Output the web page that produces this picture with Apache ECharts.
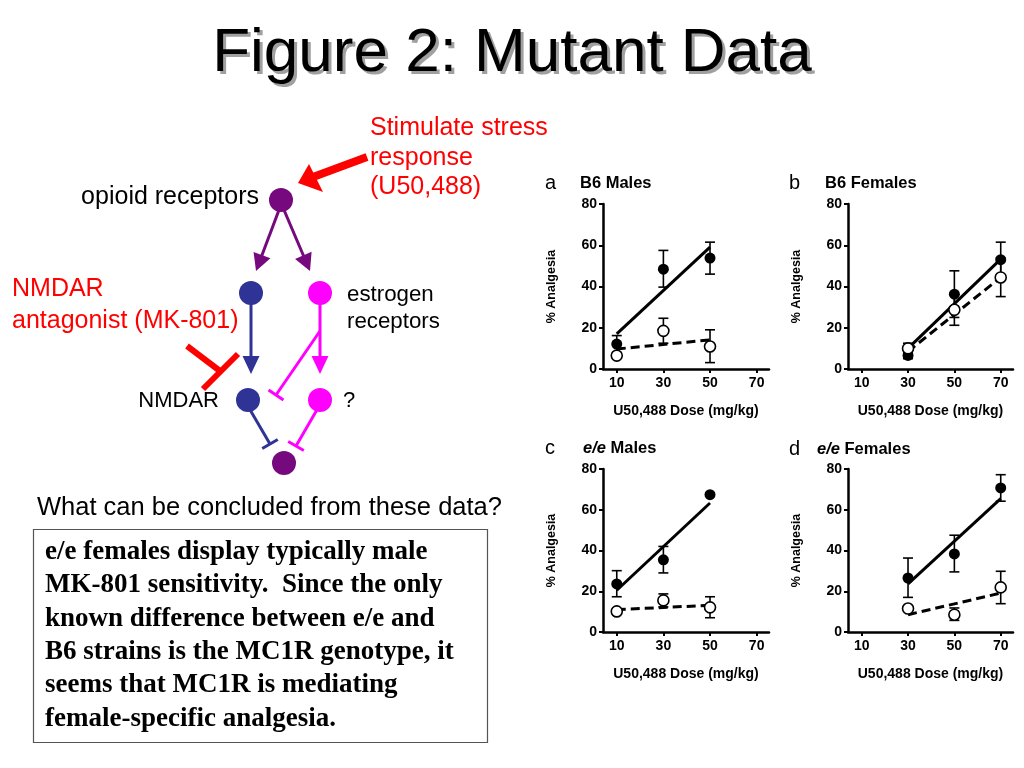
<!DOCTYPE html>
<html><head><meta charset="utf-8">
<script src="https://cdn.jsdelivr.net/npm/echarts@6/dist/echarts.min.js"></script>
<style>html,body{margin:0;padding:0;background:#fff}#c{width:1024px;height:768px}</style>
</head><body><div id="c"></div>
<script>
// ---------- data ----------
const xTickValues = [10, 30, 50, 70];
const yTickValues = [0, 20, 40, 60, 80];
const panelLetters = ['a', 'b', 'c', 'd'];
const panelTitles = ['B6 Males', 'B6 Females', 'e/e Males', 'e/e Females'];

// a: B6 males (filled = U50,488 alone, open = with MK-801)
const aDose = [10, 30, 50];
const aSalMean = [12.1, 48.4, 53.8];
const aSalLow = [8.0, 39.7, 46.0];
const aSalHigh = [16.2, 57.5, 61.5];
const aMkMean = [6.5, 18.5, 10.9];
const aMkLow = [5.5, 12.5, 3.1];
const aMkHigh = [7.5, 24.6, 19.0];
const aFitDose = [10, 50];
const aSalFit = [17.0, 59.1];
const aMkFit = [9.7, 14.1];

// b: B6 females
const bDose = [30, 50, 70];
const bSalMean = [6.6, 36.3, 53.0];
const bSalLow = [5.0, 25.0, 44.5];
const bSalHigh = [8.0, 47.6, 61.5];
const bMkMean = [10.0, 28.7, 44.4];
const bMkLow = [7.5, 21.2, 35.1];
const bMkHigh = [12.5, 36.2, 53.7];
const bFitDose = [30, 70];
const bSalFit = [10.0, 53.3];
const bMkFit = [8.5, 44.4];

// c: e/e males
const cDose = [10, 30, 50];
const cSalMean = [23.6, 35.4, 67.4];
const cSalLow = [17.3, 29.0, 66.9];
const cSalHigh = [30.1, 42.0, 67.9];
const cMkMean = [10.1, 15.5, 12.1];
const cMkLow = [9.0, 12.3, 7.0];
const cMkHigh = [11.2, 18.7, 17.3];
const cFitDose = [10, 50];
const cSalFit = [20.5, 63.3];
const cMkFit = [11.0, 13.1];

// d: e/e females
const dDose = [30, 50, 70];
const dSalMean = [26.5, 38.3, 70.7];
const dSalLow = [17.0, 29.5, 64.2];
const dSalHigh = [36.3, 47.5, 77.2];
const dMkMean = [11.5, 8.5, 21.9];
const dMkLow = [10.5, 5.7, 13.9];
const dMkHigh = [12.5, 11.8, 29.8];
const dFitDose = [30, 70];
const dSalFit = [23.6, 65.5];
const dMkFit = [8.5, 19.1];

const panels = [
  {dose: aDose, salMean: aSalMean, salLow: aSalLow, salHigh: aSalHigh, mkMean: aMkMean, mkLow: aMkLow, mkHigh: aMkHigh, fitDose: aFitDose, salFit: aSalFit, mkFit: aMkFit},
  {dose: bDose, salMean: bSalMean, salLow: bSalLow, salHigh: bSalHigh, mkMean: bMkMean, mkLow: bMkLow, mkHigh: bMkHigh, fitDose: bFitDose, salFit: bSalFit, mkFit: bMkFit},
  {dose: cDose, salMean: cSalMean, salLow: cSalLow, salHigh: cSalHigh, mkMean: cMkMean, mkLow: cMkLow, mkHigh: cMkHigh, fitDose: cFitDose, salFit: cSalFit, mkFit: cMkFit},
  {dose: dDose, salMean: dSalMean, salLow: dSalLow, salHigh: dSalHigh, mkMean: dMkMean, mkLow: dMkLow, mkHigh: dMkHigh, fitDose: dFitDose, salFit: dSalFit, mkFit: dMkFit}
];

// ---------- layout ----------
const FONT = '"Liberation Sans", Arial, Helvetica, sans-serif';
const gridBoxes = [
  {left: 603, top: 204, width: 166, height: 165},
  {left: 848, top: 204, width: 165, height: 165},
  {left: 603, top: 469, width: 166, height: 163},
  {left: 848, top: 469, width: 165, height: 163}
];
const headerPos = [
  {lx: 545, tx: 580, y: 183},
  {lx: 789, tx: 825, y: 183},
  {lx: 545, tx: 583, y: 448},
  {lx: 789, tx: 817, y: 449}
];

function errRender(params, api) {
  const x = api.value(0), lo = api.value(1), hi = api.value(2);
  const pLo = api.coord([x, lo]), pHi = api.coord([x, hi]);
  const cw = 5;
  const st = {stroke: '#000', lineWidth: 1.6};
  return {type: 'group', children: [
    {type: 'line', shape: {x1: pLo[0], y1: pLo[1], x2: pHi[0], y2: pHi[1]}, style: st},
    {type: 'line', shape: {x1: pLo[0] - cw, y1: pLo[1], x2: pLo[0] + cw, y2: pLo[1]}, style: st},
    {type: 'line', shape: {x1: pHi[0] - cw, y1: pHi[1], x2: pHi[0] + cw, y2: pHi[1]}, style: st}
  ]};
}

const grid = [], xAxis = [], yAxis = [], series = [];
panels.forEach((p, i) => {
  grid.push(Object.assign({containLabel: false}, gridBoxes[i]));
  xAxis.push({
    type: 'value', gridIndex: i, min: 4.1, max: 75.3,
    name: 'U50,488 Dose (mg/kg)', nameLocation: 'middle', nameGap: 35,
    nameTextStyle: {fontFamily: FONT, fontWeight: 'bold', fontSize: 14, color: '#000'},
    axisLine: {show: true, onZero: false, lineStyle: {color: '#000', width: 2.5}},
    axisTick: {show: true, inside: false, length: 4, customValues: xTickValues, lineStyle: {color: '#000', width: 2}},
    axisLabel: {customValues: xTickValues, margin: 7, fontFamily: FONT, fontWeight: 'bold', fontSize: 14, color: '#000'},
    splitLine: {show: false}
  });
  yAxis.push({
    type: 'value', gridIndex: i, min: 0, max: 80, interval: 20,
    name: '% Analgesia', nameLocation: 'middle', nameGap: 45, nameRotate: 90,
    nameTextStyle: {fontFamily: FONT, fontWeight: 'bold', fontSize: 12.5, color: '#000'},
    axisLine: {show: true, onZero: false, lineStyle: {color: '#000', width: 2.5}},
    axisTick: {show: true, inside: false, length: 4, lineStyle: {color: '#000', width: 2}},
    axisLabel: {margin: 6, fontFamily: FONT, fontWeight: 'bold', fontSize: 14, color: '#000',
      formatter: v => (yTickValues.indexOf(v) >= 0 ? String(v) : '')},
    splitLine: {show: false}
  });
  series.push({
    type: 'custom', xAxisIndex: i, yAxisIndex: i, renderItem: errRender, clip: false, z: 2,
    encode: {x: 0, y: [1, 2]},
    data: p.dose.map((d, j) => [d, p.salLow[j], p.salHigh[j]])
  });
  series.push({
    type: 'custom', xAxisIndex: i, yAxisIndex: i, renderItem: errRender, clip: false, z: 2,
    encode: {x: 0, y: [1, 2]},
    data: p.dose.map((d, j) => [d, p.mkLow[j], p.mkHigh[j]])
  });
  series.push({
    type: 'line', xAxisIndex: i, yAxisIndex: i, symbol: 'none', z: 3, silent: true,
    lineStyle: {color: '#000', width: 3},
    data: p.fitDose.map((d, j) => [d, p.salFit[j]])
  });
  series.push({
    type: 'line', xAxisIndex: i, yAxisIndex: i, symbol: 'none', z: 3, silent: true,
    lineStyle: {color: '#000', width: 3, type: [9, 5]},
    data: p.fitDose.map((d, j) => [d, p.mkFit[j]])
  });
  series.push({
    type: 'scatter', xAxisIndex: i, yAxisIndex: i, symbol: 'circle', symbolSize: 11, z: 4,
    itemStyle: {color: '#000', opacity: 1},
    data: p.dose.map((d, j) => [d, p.salMean[j]])
  });
  series.push({
    type: 'scatter', xAxisIndex: i, yAxisIndex: i, symbol: 'circle', symbolSize: 11, z: 4,
    itemStyle: {color: '#fff', borderColor: '#000', borderWidth: 1.6, opacity: 1},
    data: p.dose.map((d, j) => [d, p.mkMean[j]])
  });
});

// ---------- slide graphics ----------
const G = [];
function txt(x, y, text, font, color, align, va, extra) {
  G.push({type: 'text', x: x, y: y, silent: true,
    style: Object.assign({text: text, font: font, fill: color, align: align || 'left', verticalAlign: va || 'middle'}, extra || {})});
}
// title with shadow
txt(515, 57, 'Figure 2: Mutant Data', 'normal 62px ' + FONT, '#a0a0a0', 'center');
txt(512, 54, 'Figure 2: Mutant Data', 'normal 62px ' + FONT, '#000', 'center');

// panel headers
panelLetters.forEach((l, i) => {
  const h = headerPos[i];
  txt(h.lx, h.y, l, 'normal 20px ' + FONT, '#000', 'left');
  const t = panelTitles[i];
  if (t.indexOf('e/e') === 0) {
    G.push({type: 'text', x: h.tx, y: h.y, silent: true, style: {
      text: '{i|e/e}{b|' + t.slice(3) + '}', verticalAlign: 'middle', fill: '#000',
      rich: {i: {font: 'italic bold 16.5px ' + FONT, fill: '#000'}, b: {font: 'bold 16.5px ' + FONT, fill: '#000'}}
    }});
  } else {
    txt(h.tx, h.y, t, 'bold 16.5px ' + FONT, '#000', 'left');
  }
});

// diagram helpers
function line(x1, y1, x2, y2, color, w) {
  G.push({type: 'line', silent: true, shape: {x1, y1, x2, y2}, style: {stroke: color, lineWidth: w, lineCap: 'butt'}});
}
function arrow(x1, y1, x2, y2, color, w, hl, hw) {
  const dx = x2 - x1, dy = y2 - y1, L = Math.hypot(dx, dy), ux = dx / L, uy = dy / L;
  const bx = x2 - ux * hl, by = y2 - uy * hl;
  line(x1, y1, bx + ux * 1, by + uy * 1, color, w);
  G.push({type: 'polygon', silent: true, shape: {points: [[x2, y2], [bx - uy * hw, by + ux * hw], [bx + uy * hw, by - ux * hw]]}, style: {fill: color}});
}
function tee(x1, y1, x2, y2, color, w, half) {
  const dx = x2 - x1, dy = y2 - y1, L = Math.hypot(dx, dy), ux = dx / L, uy = dy / L;
  line(x1, y1, x2, y2, color, w);
  line(x2 - uy * half, y2 + ux * half, x2 + uy * half, y2 - ux * half, color, w);
}
function dot(x, y, r, color) {
  G.push({type: 'circle', silent: true, shape: {cx: x, cy: y, r: r}, style: {fill: color}});
}
const PURPLE = '#75097d', BLUE = '#2f3396', MAG = '#ff00ff', RED = '#ff0000';

arrow(279, 210, 256, 271, PURPLE, 3, 17, 9);
arrow(284, 210, 310, 271, PURPLE, 3, 17, 9);
arrow(251, 300, 251, 374, BLUE, 3, 18, 8.5);
arrow(320, 300, 320, 374, MAG, 3, 18, 8.5);
tee(320, 331, 276, 395, MAG, 3, 9);
tee(249, 408, 270, 444, BLUE, 3, 9);
tee(318, 408, 296, 446, MAG, 3, 9);
// red inhibitor (MK-801)
line(187, 346, 220, 371, RED, 6);
line(203, 389, 238, 354, RED, 6);
// red stimulus arrow
line(367, 157, 313, 177, RED, 8);
G.push({type: 'polygon', silent: true, shape: {points: [[298, 183], [309, 164], [323, 192]]}, style: {fill: RED}});

dot(281, 200, 12, PURPLE);
dot(251, 293, 12, BLUE);
dot(320, 293, 12, MAG);
dot(248, 400, 12, BLUE);
dot(320, 400, 12, MAG);
dot(284, 463, 12, PURPLE);

txt(259, 197, 'opioid receptors', 'normal 25px ' + FONT, '#000', 'right');
txt(370, 113.5, 'Stimulate stress\nresponse\n(U50,488)', 'normal 25px ' + FONT, RED, 'left', 'top', {lineHeight: 29.5});
txt(12, 273, 'NMDAR\nantagonist (MK-801)', 'normal 25px ' + FONT, RED, 'left', 'top', {lineHeight: 32});
txt(347, 282, 'estrogen\nreceptors', 'normal 22.3px ' + FONT, '#000', 'left', 'top', {lineHeight: 26.7});
txt(219, 401, 'NMDAR', 'normal 22px ' + FONT, '#000', 'right');
txt(343, 401, '?', 'normal 22px ' + FONT, '#000', 'left');
txt(37, 508, 'What can be concluded from these data?', 'normal 25.5px ' + FONT, '#000', 'left');

// conclusion box
G.push({type: 'rect', silent: true, shape: {x: 33.5, y: 529.5, width: 454, height: 213}, style: {fill: '#fff', stroke: '#555', lineWidth: 1.2}});
txt(45, 535.5, 'e/e females display typically male\nMK-801 sensitivity.  Since the only\nknown difference between e/e and\nB6 strains is the MC1R genotype, it\nseems that MC1R is mediating\nfemale-specific analgesia.',
  'bold 27px "Liberation Serif", "Times New Roman", serif', '#000', 'left', 'top', {lineHeight: 33.3});

const chart = echarts.init(document.getElementById('c'), null, {renderer: 'canvas'});
chart.setOption({
  backgroundColor: '#fff',
  animation: false,
  grid: grid, xAxis: xAxis, yAxis: yAxis, series: series,
  graphic: {elements: G}
});
</script>
</body></html>
